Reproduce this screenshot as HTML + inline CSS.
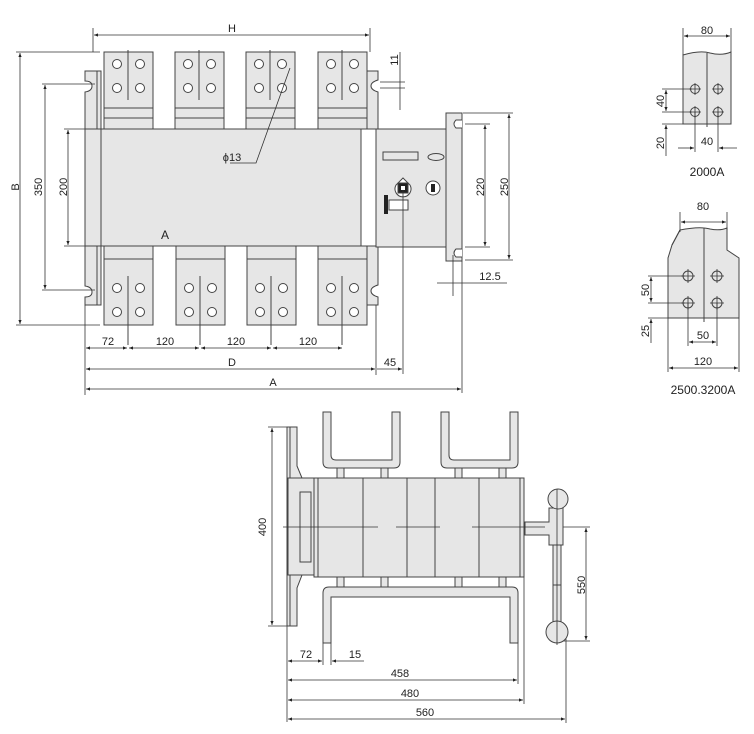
<!DOCTYPE html>
<html><head><meta charset="utf-8"><style>
html,body{margin:0;padding:0;background:#fff;}
svg{display:block;}
text{font-family:"Liberation Sans",sans-serif;font-size:11px;fill:#222;}
</style></head><body>
<svg width="754" height="734" viewBox="0 0 754 734" xmlns="http://www.w3.org/2000/svg">
<defs>
<marker id="a" viewBox="0 0 10 10" refX="10" refY="5" markerWidth="7" markerHeight="5" orient="auto-start-reverse"><path d="M0,1 L10,5 L0,9 z" fill="#222"/></marker>
</defs>
<g stroke="#444" stroke-width="1" fill="#e6e6e6">
<!-- left brackets -->
<path d="M85,71 H101 V129 H85 V92 Q92,91 92,86 Q92,81 85,81 Z"/>
<path d="M85,246 H101 V305 H85 V297 Q92,297 92,292 Q92,287 85,286 Z"/>
<line x1="97" y1="71" x2="97" y2="129"/><line x1="97" y1="246" x2="97" y2="305"/>
<!-- right brackets -->
<path d="M367,71 H378 V80 Q371,82 371,86 Q371,90 378,92 V129 H367 Z"/>
<path d="M367,246 H378 V285 Q371,287 371,291 Q371,295 378,297 V305 H367 Z"/>
<!-- top busbars -->
<g id="tb">
<rect x="104" y="52" width="49" height="77"/>
<line x1="104" y1="108" x2="153" y2="108"/><line x1="104" y1="118" x2="153" y2="118"/>
<line x1="128" y1="50" x2="128" y2="100"/>
<circle cx="117" cy="64" r="4.5" fill="#fff"/><circle cx="140" cy="64" r="4.5" fill="#fff"/>
<circle cx="117" cy="88" r="4.5" fill="#fff"/><circle cx="140" cy="88" r="4.5" fill="#fff"/>
</g>
<use href="#tb" x="71"/><use href="#tb" x="142"/><use href="#tb" x="214"/>
<!-- bottom busbars -->
<g id="bb">
<rect x="104" y="246" width="49" height="79"/>
<line x1="104" y1="259" x2="153" y2="259"/>
<line x1="128" y1="276" x2="128" y2="345"/>
<circle cx="117" cy="288" r="4.5" fill="#fff"/><circle cx="140" cy="288" r="4.5" fill="#fff"/>
<circle cx="117" cy="312" r="4.5" fill="#fff"/><circle cx="140" cy="312" r="4.5" fill="#fff"/>
</g>
<use href="#bb" x="72"/><use href="#bb" x="143"/><use href="#bb" x="214"/>
<!-- main body -->
<rect x="85" y="129" width="291" height="117"/>
<line x1="101" y1="129" x2="101" y2="246"/>
<rect x="361" y="129" width="15" height="117" fill="#fff"/>
<!-- handle plate -->
<rect x="376" y="129" width="70" height="118"/>
<path d="M446,113 H462 V261 H446 Z"/>
<path d="M462,120 H456 Q452,124 456,128 H462" fill="#fff"/>
<path d="M462,249 H456 Q452,253 456,257 H462" fill="#fff"/>
<rect x="383" y="152" width="35" height="8"/>
<ellipse cx="436" cy="157" rx="8" ry="3.5"/>
<path d="M403,178 L410,185 A8,8 0 1 1 396,185 Z" fill="#fff"/>
<rect x="398" y="183" width="10" height="10" fill="#222"/><rect x="401" y="186" width="4" height="4" fill="#fff" stroke="none"/>
<circle cx="433" cy="188" r="7" fill="#fff"/><rect x="431" y="184" width="4" height="8" fill="#222" stroke="none"/>
<rect x="389" y="200" width="19" height="10" fill="#fff"/>
<rect x="384" y="195" width="4" height="19" fill="#222" stroke="none"/>
</g>
<g stroke="#333" stroke-width="0.8" fill="none">
<line x1="403" y1="190" x2="403" y2="374"/>
<line x1="93" y1="28" x2="93" y2="52"/><line x1="370" y1="28" x2="370" y2="52"/>
<line x1="94" y1="35" x2="369" y2="35" marker-start="url(#a)" marker-end="url(#a)"/>
<line x1="400" y1="52" x2="400" y2="110"/>
<line x1="380" y1="82" x2="405" y2="82"/><line x1="380" y1="88" x2="405" y2="88"/>
<line x1="16" y1="52" x2="100" y2="52"/><line x1="16" y1="325" x2="100" y2="325"/>
<line x1="20" y1="53" x2="20" y2="324" marker-start="url(#a)" marker-end="url(#a)"/>
<line x1="42" y1="84" x2="95" y2="84"/><line x1="42" y1="290" x2="95" y2="290"/>
<line x1="45" y1="85" x2="45" y2="289" marker-start="url(#a)" marker-end="url(#a)"/>
<line x1="64" y1="129" x2="85" y2="129"/><line x1="64" y1="246" x2="85" y2="246"/>
<line x1="68" y1="130" x2="68" y2="245" marker-start="url(#a)" marker-end="url(#a)"/>
<polyline points="230,163 256,163 290,68"/>
<line x1="85" y1="305" x2="85" y2="395"/>
<line x1="86" y1="348" x2="127" y2="348" marker-start="url(#a)" marker-end="url(#a)"/>
<line x1="129" y1="348" x2="199" y2="348" marker-start="url(#a)" marker-end="url(#a)"/>
<line x1="201" y1="348" x2="271" y2="348" marker-start="url(#a)" marker-end="url(#a)"/>
<line x1="273" y1="348" x2="342" y2="348" marker-start="url(#a)" marker-end="url(#a)"/>
<line x1="376" y1="305" x2="376" y2="375"/>
<line x1="86" y1="369" x2="375" y2="369" marker-start="url(#a)" marker-end="url(#a)"/>
<line x1="377" y1="369" x2="402" y2="369" marker-end="url(#a)"/>
<line x1="462" y1="261" x2="462" y2="393"/>
<line x1="86" y1="389" x2="461" y2="389" marker-start="url(#a)" marker-end="url(#a)"/>
<line x1="465" y1="124" x2="490" y2="124"/><line x1="465" y1="247" x2="490" y2="247"/>
<line x1="485" y1="125" x2="485" y2="246" marker-start="url(#a)" marker-end="url(#a)"/>
<line x1="463" y1="113" x2="513" y2="113"/><line x1="465" y1="260" x2="513" y2="260"/>
<line x1="509" y1="114" x2="509" y2="259" marker-start="url(#a)" marker-end="url(#a)"/>
<line x1="453" y1="255" x2="453" y2="296"/>
<line x1="437" y1="283" x2="507" y2="283"/>
<line x1="268" y1="427" x2="287" y2="427"/><line x1="268" y1="626" x2="287" y2="626"/>
<line x1="272" y1="428" x2="272" y2="625" marker-start="url(#a)" marker-end="url(#a)"/>
<line x1="525" y1="527" x2="590" y2="527"/><line x1="562" y1="641" x2="590" y2="641"/>
<line x1="586" y1="528" x2="586" y2="640" marker-start="url(#a)" marker-end="url(#a)"/>
<line x1="287" y1="626" x2="287" y2="722"/>
<line x1="323" y1="643" x2="323" y2="665"/><line x1="331" y1="643" x2="331" y2="665"/>
<line x1="288" y1="661" x2="322" y2="661" marker-start="url(#a)" marker-end="url(#a)"/>
<line x1="364" y1="661" x2="332" y2="661" marker-end="url(#a)"/>
<line x1="518" y1="643" x2="518" y2="684"/>
<line x1="288" y1="680" x2="517" y2="680" marker-start="url(#a)" marker-end="url(#a)"/>
<line x1="524" y1="577" x2="524" y2="704"/>
<line x1="288" y1="700" x2="523" y2="700" marker-start="url(#a)" marker-end="url(#a)"/>
<line x1="566" y1="636" x2="566" y2="723"/>
<line x1="288" y1="719" x2="565" y2="719" marker-start="url(#a)" marker-end="url(#a)"/>
</g>
<g stroke="#444" stroke-width="1" fill="#e6e6e6">
<path d="M287,427 H297 V466 L302,478 H288 V575 H302 L297,588 V626 H287 Z"/>
<line x1="290" y1="427" x2="290" y2="626"/>
<path d="M323,412 H331 V455 Q331,460 336,460 H392 V412 H400 V462 Q400,468 394,468 H329 Q323,468 323,462 Z"/>
<path d="M441,412 H449 V455 Q449,460 454,460 H510 V412 H518 V462 Q518,468 512,468 H447 Q441,468 441,462 Z"/>
<rect x="337" y="468" width="7" height="10"/><rect x="381" y="468" width="7" height="10"/>
<rect x="455" y="468" width="7" height="10"/><rect x="499" y="468" width="7" height="10"/>
<rect x="337" y="577" width="7" height="10"/><rect x="381" y="577" width="7" height="10"/>
<rect x="455" y="577" width="7" height="10"/><rect x="499" y="577" width="7" height="10"/>
<path d="M323,643 V593 Q323,587 329,587 H512 Q518,587 518,593 V643 H510 V597 H331 V643 Z"/>
<rect x="288" y="478" width="26" height="97"/>
<rect x="300" y="492" width="11" height="70"/>
<rect x="314" y="478" width="4" height="99"/>
<rect x="318" y="478" width="202" height="99"/>
<rect x="520" y="478" width="4" height="99"/>
<line x1="363" y1="478" x2="363" y2="577"/><line x1="407" y1="478" x2="407" y2="577"/>
<line x1="435" y1="478" x2="435" y2="577"/><line x1="479" y1="478" x2="479" y2="577"/>
<path d="M525,522 H549 V508 H563 V545 H549 V535 H525 Z"/>
<rect x="553" y="545" width="8" height="80"/>
<line x1="553" y1="585" x2="561" y2="585"/>
<circle cx="558" cy="499" r="10"/>
<circle cx="557" cy="632" r="11"/>
</g>
<g stroke="#333" stroke-width="0.8">
<line x1="283" y1="527" x2="378" y2="527"/><line x1="396" y1="527" x2="440" y2="527"/><line x1="472" y1="527" x2="545" y2="527"/>
<line x1="557" y1="489" x2="557" y2="645"/>
</g>
<g stroke="#444" stroke-width="1" fill="#e6e6e6">
<path d="M683,124 V55 Q700,50 710,53 Q722,56 731,52 V124 Z"/>
<line x1="707" y1="53" x2="707" y2="127"/>
<circle cx="695" cy="89" r="4.5"/><circle cx="718" cy="89" r="4.5"/>
<circle cx="695" cy="112" r="4.5"/><circle cx="718" cy="112" r="4.5"/>
<path d="M680,230 Q700,226 710,229 Q720,231 727,228 V250 L739,258 V318 H668 V258 L672,245 Z"/>
<line x1="672" y1="245" x2="680" y2="230"/>
<line x1="704" y1="228" x2="704" y2="322"/>
<circle cx="688" cy="276" r="5"/><circle cx="717" cy="276" r="5"/>
<circle cx="688" cy="303" r="5"/><circle cx="717" cy="303" r="5"/>
</g>
<g stroke="#333" stroke-width="0.8" fill="none">
<path d="M689,89h12M695,83v12M712,89h12M718,83v12M689,112h12M695,106v12M712,112h12M718,106v12"/>
<path d="M681,276h14M688,269v14M710,276h14M717,269v14M681,303h14M688,296v14M710,303h14M717,296v14"/>
<line x1="683" y1="28" x2="683" y2="55"/><line x1="731" y1="28" x2="731" y2="52"/>
<line x1="684" y1="36" x2="730" y2="36" marker-start="url(#a)" marker-end="url(#a)"/>
<line x1="662" y1="89" x2="692" y2="89"/><line x1="662" y1="112" x2="692" y2="112"/><line x1="662" y1="124" x2="683" y2="124"/>
<line x1="666" y1="90" x2="666" y2="111" marker-start="url(#a)" marker-end="url(#a)"/>
<line x1="666" y1="125" x2="666" y2="156" marker-start="url(#a)"/>
<line x1="695" y1="112" x2="695" y2="152"/><line x1="718" y1="112" x2="718" y2="152"/>
<line x1="678" y1="148" x2="694" y2="148" marker-end="url(#a)"/>
<line x1="737" y1="148" x2="719" y2="148" marker-end="url(#a)"/>
<line x1="680" y1="212" x2="680" y2="232"/><line x1="727" y1="212" x2="727" y2="230"/>
<line x1="681" y1="222" x2="726" y2="222" marker-start="url(#a)" marker-end="url(#a)"/>
<line x1="648" y1="276" x2="685" y2="276"/><line x1="648" y1="303" x2="685" y2="303"/><line x1="648" y1="318" x2="668" y2="318"/>
<line x1="651" y1="277" x2="651" y2="302" marker-start="url(#a)" marker-end="url(#a)"/>
<line x1="651" y1="319" x2="651" y2="343" marker-start="url(#a)"/>
<line x1="688" y1="303" x2="688" y2="346"/><line x1="717" y1="303" x2="717" y2="346"/>
<line x1="689" y1="342" x2="716" y2="342" marker-start="url(#a)" marker-end="url(#a)"/>
<line x1="668" y1="318" x2="668" y2="372"/><line x1="739" y1="318" x2="739" y2="372"/>
<line x1="669" y1="368" x2="738" y2="368" marker-start="url(#a)" marker-end="url(#a)"/>
</g>
<text x="232" y="32" text-anchor="middle">H</text>
<text x="165" y="239" text-anchor="middle" style="font-size:12px">A</text>
<text x="232" y="161" text-anchor="middle">ϕ13</text>
<text transform="translate(19,187) rotate(-90)" text-anchor="middle">B</text>
<text transform="translate(42,187) rotate(-90)" text-anchor="middle">350</text>
<text transform="translate(67,187) rotate(-90)" text-anchor="middle">200</text>
<text transform="translate(398,60) rotate(-90)" text-anchor="middle">11</text>
<text transform="translate(484,187) rotate(-90)" text-anchor="middle">220</text>
<text transform="translate(508,187) rotate(-90)" text-anchor="middle">250</text>
<text x="490" y="280" text-anchor="middle">12.5</text>
<text x="108" y="345" text-anchor="middle">72</text>
<text x="165" y="345" text-anchor="middle">120</text>
<text x="236" y="345" text-anchor="middle">120</text>
<text x="308" y="345" text-anchor="middle">120</text>
<text x="232" y="366" text-anchor="middle">D</text>
<text x="390" y="366" text-anchor="middle">45</text>
<text x="273" y="386" text-anchor="middle">A</text>
<text transform="translate(266,527) rotate(-90)" text-anchor="middle">400</text>
<text transform="translate(585,585) rotate(-90)" text-anchor="middle">550</text>
<text x="306" y="658" text-anchor="middle">72</text>
<text x="355" y="658" text-anchor="middle">15</text>
<text x="400" y="677" text-anchor="middle">458</text>
<text x="410" y="697" text-anchor="middle">480</text>
<text x="425" y="716" text-anchor="middle">560</text>
<text x="707" y="34" text-anchor="middle">80</text>
<text transform="translate(664,101) rotate(-90)" text-anchor="middle">40</text>
<text transform="translate(664,143) rotate(-90)" text-anchor="middle">20</text>
<text x="707" y="145" text-anchor="middle">40</text>
<text x="707" y="176" text-anchor="middle" style="font-size:12px">2000A</text>
<text x="703" y="210" text-anchor="middle">80</text>
<text transform="translate(649,290) rotate(-90)" text-anchor="middle">50</text>
<text transform="translate(649,331) rotate(-90)" text-anchor="middle">25</text>
<text x="703" y="339" text-anchor="middle">50</text>
<text x="703" y="365" text-anchor="middle">120</text>
<text x="703" y="394" text-anchor="middle" style="font-size:12px">2500.3200A</text>
</svg>
</body></html>
